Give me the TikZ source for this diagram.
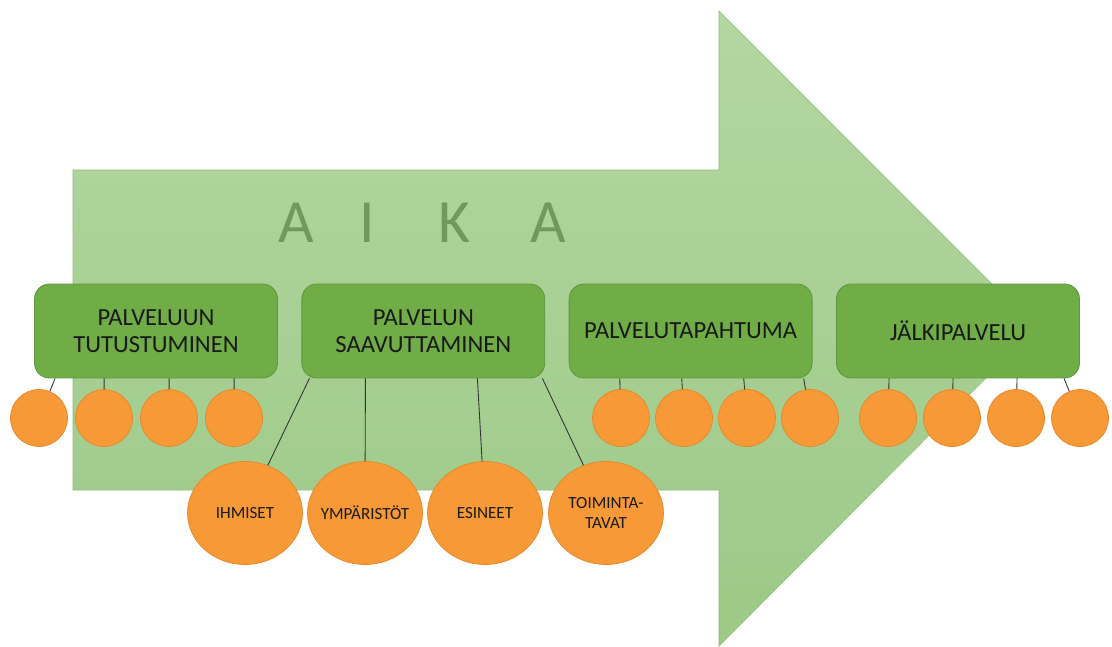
\documentclass[tikz,border=0pt]{standalone}
\usepackage{fontspec}
\setmainfont{Carlito}
\usetikzlibrary{positioning,shapes.geometric,calc}
\definecolor{timegreen}{RGB}{180,214,162}
\definecolor{timegreendk}{RGB}{156,201,134}
\definecolor{phasegreen}{RGB}{112,173,71}
\definecolor{phaseedge}{RGB}{96,152,60}
\definecolor{dotorange}{RGB}{247,153,54}
\definecolor{dotedge}{RGB}{232,133,40}
\definecolor{aikagreen}{RGB}{114,152,96}

\begin{document}
\begin{tikzpicture}[x=0.02cm,y=-0.02cm,
        phase/.style={rectangle,rounded corners=0.3cm,draw=phaseedge,fill=phasegreen,line width=0.5pt,
          minimum width=4.86cm,minimum height=1.88cm,align=center,text=black!90,
          font=\fontsize{14}{15.5}\selectfont},
        dot/.style={circle,draw=dotedge,fill=dotorange,line width=0.4pt,minimum size=1.14cm,inner sep=0pt},
        bigdot/.style={ellipse,draw=dotedge,fill=dotorange,line width=0.4pt,minimum width=2.3cm,
          minimum height=2.06cm,inner xsep=-0.4cm,inner ysep=-0.2cm,align=center,text=black!90,
          font=\fontsize{9.7}{11.5}\selectfont},
        link/.style={draw=black!80,line width=0.5pt}]
        \useasboundingbox (0,0) rectangle (1112,646);
        % time arrow
        \shadedraw[top color=timegreen,bottom color=timegreendk,draw=timegreendk!92!black,line width=0.3pt]
          (73,170) -- (719,170) -- (719,11) -- (1036,328) -- (719,646) -- (719,490) -- (73,490) -- cycle;
        \node[text=aikagreen,font=\fontsize{35}{35}\selectfont,anchor=base] (aika) at (422,242)
          {A\hspace{26pt}I\hspace{36pt}K\hspace{34pt}A};
        % phases
        \node[phase] (tutustu) at (156,331) {PALVELUUN\\TUTUSTUMINEN};
        \node[phase,right=0.47cm of tutustu] (saavutt) {PALVELUN\\SAAVUTTAMINEN};
        \node[phase,right=0.47cm of saavutt] (tapahtu) {PALVELUTAPAHTUMA};
        \node[phase,right=0.47cm of tapahtu] (jalki) {JÄLKIPALVELU};
        % small dots
        \node[dot] (t1) at (39,418) {};
        \node[dot] (t2) at (104,418) {};
        \node[dot] (t3) at (169,418) {};
        \node[dot] (t4) at (234,418) {};
        \node[dot] (p1) at (621,418) {};
        \node[dot] (p2) at (684,418) {};
        \node[dot] (p3) at (747,418) {};
        \node[dot] (p4) at (810,418) {};
        \node[dot] (j1) at (888,418) {};
        \node[dot] (j2) at (952,418) {};
        \node[dot] (j3) at (1016,418) {};
        \node[dot] (j4) at (1080,418) {};
        % big dots
        \node[bigdot] (ihmiset) at (245,513) {IHMISET};
        \node[bigdot] (ymparis) at (365,513) {YMPÄRISTÖT};
        \node[bigdot] (esineet) at (485,513) {ESINEET};
        \node[bigdot] (toimint) at (606,513) {TOIMINTA-\\TAVAT};
        % links
        \draw[link] ($(tutustu.south west)+(21,0)$) -- (t1);
        \draw[link] ($(tutustu.south west)+(70,0)$) -- (t2);
        \draw[link] ($(tutustu.south west)+(135,0)$) -- (t3);
        \draw[link] ($(tutustu.south west)+(200,0)$) -- (t4);
        \draw[link] ($(saavutt.south west)+(8,0)$) -- (ihmiset);
        \draw[link] ($(saavutt.south west)+(64,0)$) -- (ymparis);
        \draw[link] ($(saavutt.south west)+(176,0)$) -- (esineet);
        \draw[link] ($(saavutt.south west)+(241,0)$) -- (toimint);
        \draw[link] ($(tapahtu.south west)+(51,0)$) -- (p1);
        \draw[link] ($(tapahtu.south west)+(113,0)$) -- (p2);
        \draw[link] ($(tapahtu.south west)+(175,0)$) -- (p3);
        \draw[link] ($(tapahtu.south west)+(235,0)$) -- (p4);
        \draw[link] ($(jalki.south west)+(53,0)$) -- (j1);
        \draw[link] ($(jalki.south west)+(117,0)$) -- (j2);
        \draw[link] ($(jalki.south west)+(181,0)$) -- (j3);
        \draw[link] ($(jalki.south west)+(228,0)$) -- (j4);
      \end{tikzpicture}
\end{document}
